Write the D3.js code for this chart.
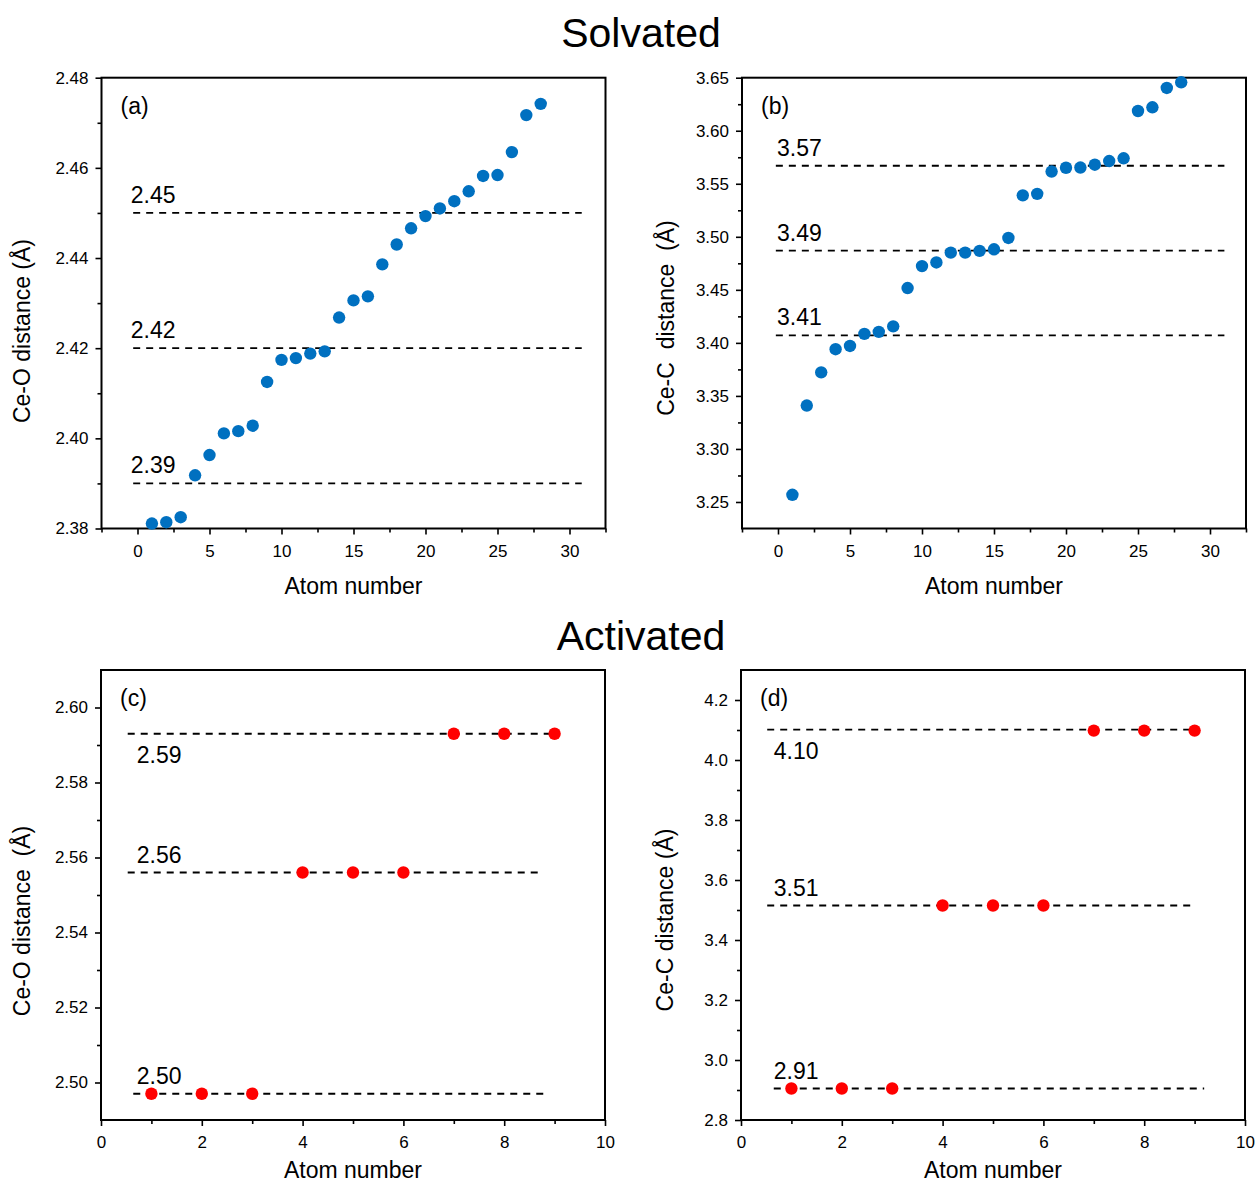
<!DOCTYPE html>
<html>
<head>
<meta charset="utf-8">
<script src="https://cdn.jsdelivr.net/npm/d3@7"></script>
<style>
body { margin: 0; background: #fff; }
text { font-family: "Liberation Sans", Arial, sans-serif; fill: #000; }
</style>
</head>
<body>
<svg id="fig" width="1257" height="1183"></svg>
<script>
// Solvated: 28 atoms
var atomsSolv = [1, 2, 3, 4, 5, 6, 7, 8, 9, 10, 11, 12, 13, 14, 15, 16, 17, 18, 19, 20, 21, 22, 23, 24, 25, 26, 27, 28];
var ceOSolv = [2.3811, 2.3814, 2.3825, 2.3918, 2.3963, 2.4011, 2.4016, 2.4028, 2.4125, 2.4174, 2.4178, 2.4188, 2.4193,
    2.4268, 2.4306, 2.4315, 2.4386, 2.4430, 2.4466, 2.4493, 2.4510, 2.4526, 2.4548, 2.4582, 2.4584, 2.4635, 2.4717, 2.4742];
var ceCSolv = [3.2568, 3.3409, 3.3722, 3.3940, 3.3971, 3.4085, 3.4104, 3.4156, 3.4517, 3.4724, 3.4758, 3.4851, 3.4851,
    3.4867, 3.4882, 3.4989, 3.5391, 3.5405, 3.5615, 3.5651, 3.5653, 3.5680, 3.5714, 3.5740, 3.6186, 3.6221, 3.6403, 3.6457];

// Activated: 9 atoms
var atomsAct = [1, 2, 3, 4, 5, 6, 7, 8, 9];
var ceOAct = [2.497, 2.497, 2.497, 2.556, 2.556, 2.556, 2.593, 2.593, 2.593];
var ceCAct = [2.905, 2.905, 2.905, 3.515, 3.515, 3.515, 4.098, 4.098, 4.098];

// dashed reference levels
var refOSolv = [2.45, 2.42, 2.39];
var refOSolvLabels = ["2.45", "2.42", "2.39"];
var refOSolvSpan = [[-0.3, 30.85], [-0.3, 30.85], [-0.3, 30.85]];
var refCSolv = [3.567, 3.487, 3.407];
var refCSolvLabels = ["3.57", "3.49", "3.41"];
var refCSolvSpan = [[-0.15, 31], [-0.15, 31], [-0.15, 31]];
var refOAct = [2.593, 2.556, 2.497];
var refOActLabels = ["2.59", "2.56", "2.50"];
var refOActSpan = [[0.53, 9.06], [0.53, 8.68], [0.64, 8.8]];
var refCAct = [4.101, 3.515, 2.905];
var refCActLabels = ["4.10", "3.51", "2.91"];
var refCActSpan = [[0.52, 9.0], [0.52, 9.03], [0.65, 9.19]];

// ticks
var xMajorSolv = [0, 5, 10, 15, 20, 25, 30];
var xMinorSolv = [-2.5, 2.5, 7.5, 12.5, 17.5, 22.5, 27.5, 32.5];
var xMajorAct = [0, 2, 4, 6, 8, 10];
var xMinorAct = [1, 3, 5, 7, 9];
var yMajorA = [2.38, 2.40, 2.42, 2.44, 2.46, 2.48];
var yMinorA = [2.39, 2.41, 2.43, 2.45, 2.47];
var yMajorB = [3.25, 3.30, 3.35, 3.40, 3.45, 3.50, 3.55, 3.60, 3.65];
var yMinorB = [3.275, 3.325, 3.375, 3.425, 3.475, 3.525, 3.575, 3.625];
var yMajorC = [2.50, 2.52, 2.54, 2.56, 2.58, 2.60];
var yMinorC = [2.51, 2.53, 2.55, 2.57, 2.59];
var yMajorD = [2.8, 3.0, 3.2, 3.4, 3.6, 3.8, 4.0, 4.2];
var yMinorD = [2.9, 3.1, 3.3, 3.5, 3.7, 3.9, 4.1];

var svg = d3.select("#fig");
svg.append("rect").attr("width", 1257).attr("height", 1183).attr("fill", "#fff");

var drawPanel = function(p) {
    var x = d3.scaleLinear().domain(p.xDomain).range([p.left, p.right]);
    var y = d3.scaleLinear().domain(p.yDomain).range([p.bottom, p.top]);
    var g = svg.append("g");

    var noDomain = function(sel) { sel.select(".domain").remove(); };

    // minor ticks
    g.append("g")
        .attr("transform", "translate(0," + p.bottom + ")")
        .call(d3.axisBottom(x).tickValues(p.xMinor).tickSize(4).tickFormat(""))
        .call(noDomain);
    g.append("g")
        .attr("transform", "translate(" + p.left + ",0)")
        .call(d3.axisLeft(y).tickValues(p.yMinor).tickSize(4).tickFormat(""))
        .call(noDomain);

    // major ticks + labels
    g.append("g")
        .attr("transform", "translate(0," + p.bottom + ")")
        .call(d3.axisBottom(x).tickValues(p.xMajor).tickSize(6).tickPadding(10).tickFormat(d3.format("d")))
        .call(noDomain);
    g.append("g")
        .attr("transform", "translate(" + p.left + ",0)")
        .call(d3.axisLeft(y).tickValues(p.yMajor).tickSize(6).tickPadding(7).tickFormat(d3.format(p.yFormat)))
        .call(noDomain);
    g.selectAll(".tick line").attr("stroke", "#000").attr("stroke-width", 1.6);
    g.selectAll(".tick text").style("font-size", "17px").style("font-family", "Liberation Sans, Arial, sans-serif").attr("fill", "#000");

    // frame
    g.append("rect")
        .attr("x", p.left).attr("y", p.top)
        .attr("width", p.right - p.left).attr("height", p.bottom - p.top)
        .attr("fill", "none").attr("stroke", "#000").attr("stroke-width", 2);

    // dashed reference lines
    p.refs.forEach(function(v, i) {
        g.append("line")
            .attr("x1", x(p.refSpan[i][0])).attr("x2", x(p.refSpan[i][1]))
            .attr("y1", y(v)).attr("y2", y(v))
            .attr("stroke", "#000").attr("stroke-width", 1.8)
            .attr("stroke-dasharray", "7,6");
        var below = p.labelBelow.indexOf(i) >= 0;
        g.append("text")
            .attr("x", x(p.labelX))
            .attr("y", y(v) + (below ? 29 : -10))
            .style("font-size", "23px")
            .text(p.refLabels[i]);
    });

    // points
    g.selectAll("circle.pt")
        .data(p.xs.map(function(d, i) { return [d, p.ys[i]]; }))
        .enter().append("circle")
        .attr("class", "pt")
        .attr("cx", function(d) { return x(d[0]); })
        .attr("cy", function(d) { return y(d[1]); })
        .attr("r", 6.2)
        .attr("fill", p.color);

    // panel tag
    g.append("text")
        .attr("x", p.left + 19).attr("y", p.top + 36)
        .style("font-size", "23px")
        .text(p.tag);

    // axis titles
    g.append("text")
        .attr("x", (p.left + p.right) / 2).attr("y", p.bottom + p.xTitleDy)
        .attr("text-anchor", "middle")
        .style("font-size", "23px")
        .text("Atom number");
    g.append("text")
        .attr("transform", "translate(" + p.yTitleX + "," + p.yTitleY + ") rotate(-90)")
        .attr("text-anchor", "middle")
        .attr("dy", "0.35em")
        .style("font-size", "23px")
        .style("white-space", "pre")
        .text(p.yTitle);
};

// titles
svg.append("text").attr("x", 641).attr("y", 47).attr("text-anchor", "middle")
    .style("font-size", "41px").text("Solvated");
svg.append("text").attr("x", 641).attr("y", 650).attr("text-anchor", "middle")
    .style("font-size", "41px").text("Activated");

drawPanel({
    tag: "(a)", left: 101.5, right: 605.5, top: 77.7, bottom: 528.5,
    xDomain: [-2.5, 32.5], yDomain: [2.38, 2.48],
    xMajor: xMajorSolv, xMinor: xMinorSolv, yMajor: yMajorA, yMinor: yMinorA, yFormat: ".2f",
    xs: atomsSolv, ys: ceOSolv, color: "#0070c0",
    refs: refOSolv, refLabels: refOSolvLabels, refSpan: refOSolvSpan, labelBelow: [], labelX: -0.47,
    yTitle: "Ce-O distance (Å)", yTitleX: 22, yTitleY: 331, xTitleDy: 65
});
drawPanel({
    tag: "(b)", left: 742, right: 1246, top: 77.7, bottom: 528.5,
    xDomain: [-2.5, 32.5], yDomain: [3.225, 3.65],
    xMajor: xMajorSolv, xMinor: xMinorSolv, yMajor: yMajorB, yMinor: yMinorB, yFormat: ".2f",
    xs: atomsSolv, ys: ceCSolv, color: "#0070c0",
    refs: refCSolv, refLabels: refCSolvLabels, refSpan: refCSolvSpan, labelBelow: [], labelX: -0.07,
    yTitle: "Ce-C  distance  (Å)", yTitleX: 666, yTitleY: 318, xTitleDy: 65
});
drawPanel({
    tag: "(c)", left: 101, right: 605, top: 670, bottom: 1120,
    xDomain: [0, 10], yDomain: [2.49, 2.61],
    xMajor: xMajorAct, xMinor: xMinorAct, yMajor: yMajorC, yMinor: yMinorC, yFormat: ".2f",
    xs: atomsAct, ys: ceOAct, color: "#ff0000",
    refs: refOAct, refLabels: refOActLabels, refSpan: refOActSpan, labelBelow: [0], labelX: 0.71,
    yTitle: "Ce-O distance  (Å)", yTitleX: 22, yTitleY: 921, xTitleDy: 58
});
drawPanel({
    tag: "(d)", left: 741, right: 1245, top: 670, bottom: 1120,
    xDomain: [0, 10], yDomain: [2.8, 4.3],
    xMajor: xMajorAct, xMinor: xMinorAct, yMajor: yMajorD, yMinor: yMinorD, yFormat: ".1f",
    xs: atomsAct, ys: ceCAct, color: "#ff0000",
    refs: refCAct, refLabels: refCActLabels, refSpan: refCActSpan, labelBelow: [0], labelX: 0.65,
    yTitle: "Ce-C distance (Å)", yTitleX: 665, yTitleY: 920, xTitleDy: 58
});
</script>
</body>
</html>
